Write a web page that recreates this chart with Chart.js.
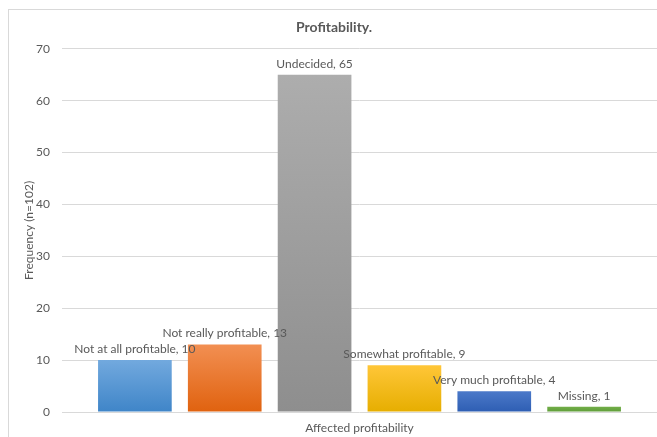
<!DOCTYPE html>
<html>
<head>
<meta charset="utf-8">
<script src="https://cdn.jsdelivr.net/npm/chart.js@4"></script>
<style>
  html, body { margin: 0; padding: 0; background: #fff; }
  #wrap { width: 657px; height: 437px; }
</style>
</head>
<body>
<div id="wrap"><canvas id="chart" width="657" height="437"></canvas></div>
<script>
const categories = ['Affected profitability'];
const seriesNames = ['Not at all profitable', 'Not really profitable', 'Undecided', 'Somewhat profitable', 'Very much profitable', 'Missing'];
const seriesValues = [10, 13, 65, 9, 4, 1];
const yTicks = [0, 10, 20, 30, 40, 50, 60, 70];

// top / bottom colours of each bar gradient
const topColors = ['#72a9de', '#f28f52', '#adadad', '#ffc638', '#4b79c9', '#72ae48'];
const bottomColors = ['#3f85c8', '#e0620f', '#8e8e8e', '#e6ae00', '#2e5eb3', '#5f9d3a'];

const textColor = '#595959';

// gradient for one bar, from its top down to zero
function barFill(i) {
  return (ctx) => {
    const chart = ctx.chart;
    const y = chart.scales && chart.scales.y;
    if (!y || !chart.chartArea) return bottomColors[i];
    const top = y.getPixelForValue(seriesValues[i]);
    const bottom = y.getPixelForValue(0);
    const g = chart.ctx.createLinearGradient(0, top, 0, bottom);
    g.addColorStop(0, topColors[i]);
    g.addColorStop(1, bottomColors[i]);
    return g;
  };
}

const frame = {
  id: 'frame',
  beforeDraw(chart) {
    const c = chart.ctx;
    c.save();
    c.fillStyle = '#fff';
    c.fillRect(0, 0, chart.width, chart.height);
    c.strokeStyle = '#d9d9d9';
    c.lineWidth = 1;
    c.strokeRect(8.5, 9.5, 700, 500);
    c.restore();
  }
};

// "Name, value" labels over each bar
const barLabels = {
  id: 'barLabels',
  afterDatasetsDraw(chart) {
    const c = chart.ctx;
    c.save();
    c.font = '12px Lato';
    c.fillStyle = textColor;
    c.textAlign = 'center';
    c.textBaseline = 'middle';
    chart.data.datasets.forEach((ds, i) => {
      const bar = chart.getDatasetMeta(i).data[0];
      c.fillText(ds.label + ', ' + ds.data[0], bar.x, bar.y - 11);
    });
    c.restore();
  }
};

new Chart('chart', {
  type: 'bar',
  data: {
    labels: categories,
    datasets: seriesNames.map((name, i) => ({
      label: name,
      data: [seriesValues[i]],
      backgroundColor: barFill(i),
      borderWidth: 0,
      categoryPercentage: 0.906,
      barPercentage: 0.82
    }))
  },
  options: {
    responsive: false,
    animation: false,
    layout: { padding: { left: 8, right: -3, top: 0, bottom: 0 } },
    plugins: {
      legend: { display: false },
      tooltip: { enabled: false },
      title: {
        display: true,
        text: 'Profitability.',
        color: textColor,
        font: { family: 'Lato', size: 14, weight: 'bold' },
        padding: { top: 19, bottom: 13 }
      }
    },
    scales: {
      x: {
        afterFit(scale) { scale.height = 25; },
        grid: { display: false, drawTicks: false, tickLength: 0 },
        border: { display: false },
        ticks: { color: textColor, font: { family: 'Lato', size: 12 }, padding: 9 }
      },
      y: {
        min: 0,
        max: 70,
        afterBuildTicks(scale) { scale.ticks = yTicks.map(v => ({ value: v })); },
        afterFit(scale) { scale.width = 54; },
        grid: { color: '#d9d9d9', drawTicks: false },
        border: { display: false },
        ticks: { color: textColor, font: { family: 'Lato', size: 12 }, padding: 12 },
        title: {
          display: true,
          text: 'Frequency (n=102)',
          color: textColor,
          font: { family: 'Lato', size: 12 },
          padding: { top: 14, bottom: 0 }
        }
      }
    }
  },
  plugins: [frame, barLabels]
});
</script>
</body>
</html>
